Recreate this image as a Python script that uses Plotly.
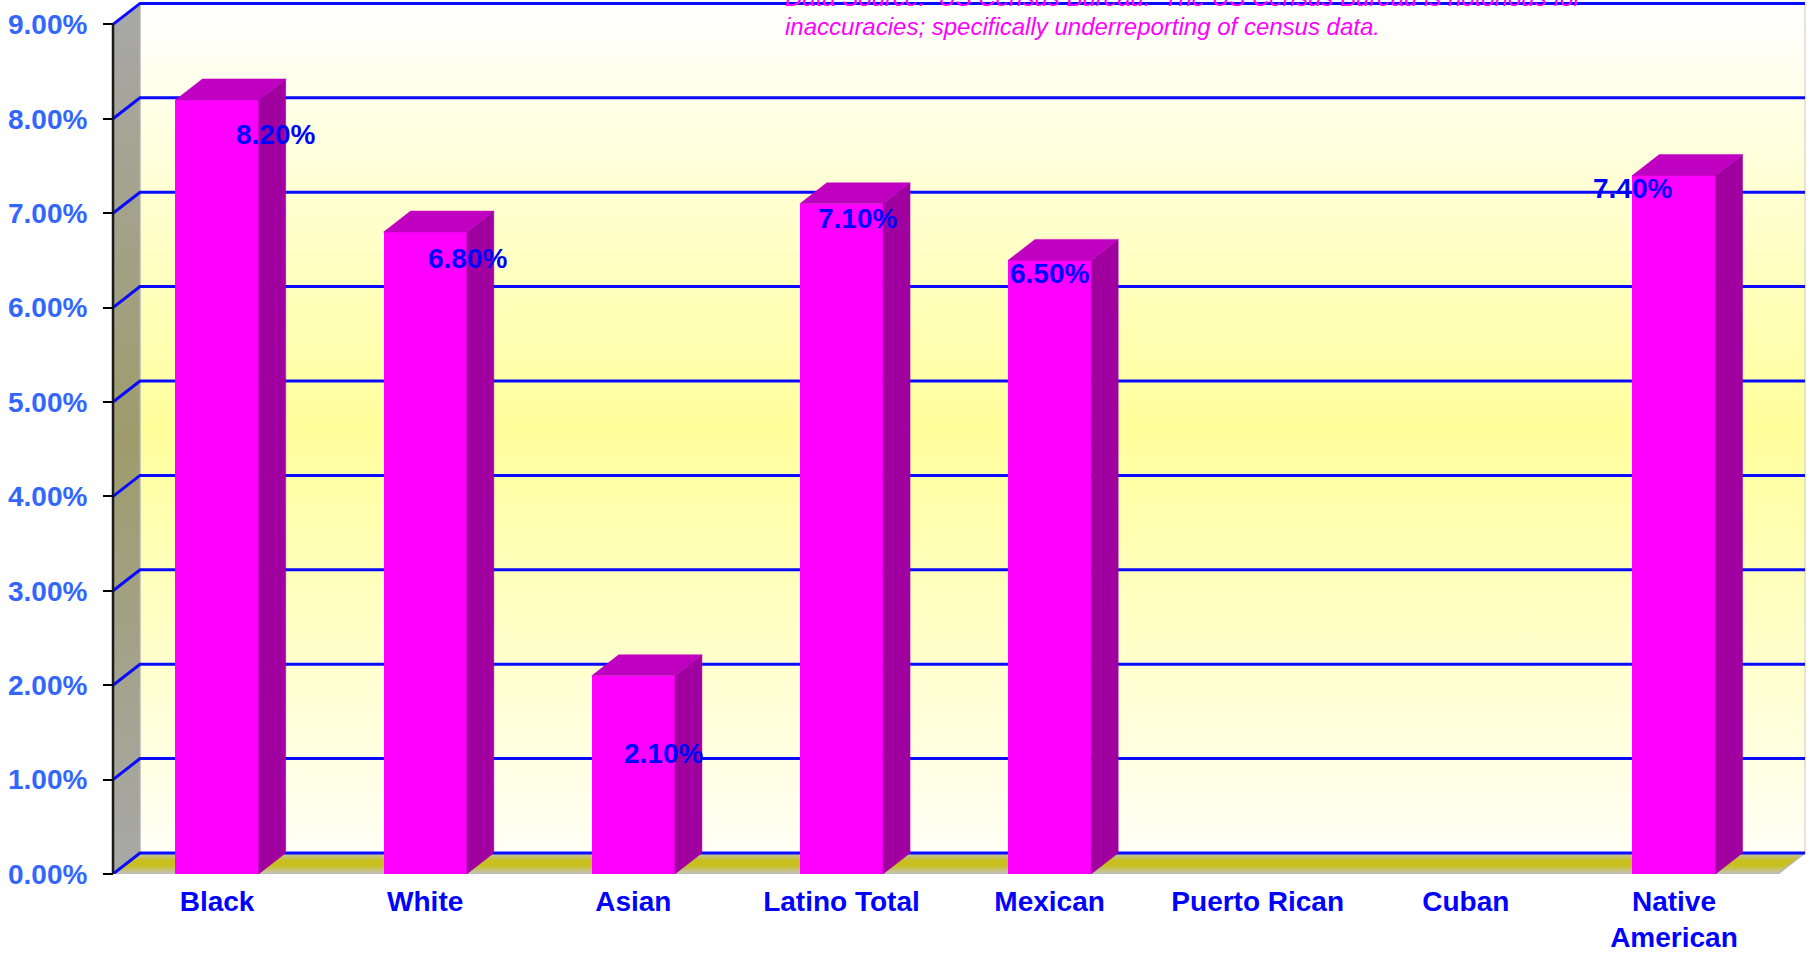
import plotly.graph_objects as go

# ---- data -------------------------------------------------------------
categories = ["Black", "White", "Asian", "Latino Total", "Mexican",
              "Puerto Rican", "Cuban", "Native American"]
category_labels = ["Black", "White", "Asian", "Latino Total", "Mexican",
                   "Puerto Rican", "Cuban", "Native<br>American"]
rates = [8.2, 6.8, 2.1, 7.1, 6.5, None, None, 7.4]          # percent
y_ticks = [0, 1, 2, 3, 4, 5, 6, 7, 8, 9]
y_tick_labels = ["0.00%", "1.00%", "2.00%", "3.00%", "4.00%",
                 "5.00%", "6.00%", "7.00%", "8.00%", "9.00%"]
note_lines = [
    "Data Source:  US Census Bureau.  The US Census Bureau is notorious for",
    "inaccuracies; specifically underreporting of census data.",
]

# value-label placement relative to each bar (category units, percent units)
label_offsets = [(0.283, -0.37), (0.201, -0.28), (0.143, -0.82), (0.075, -0.16),
                 (0.002, -0.14), None, None, (-0.197, -0.14)]

# ---- geometry ---------------------------------------------------------
W, H = 1810, 953
M_L, M_B = 108, 79
PX_CAT = 208.125          # pixels per category band
PX_PCT = 94.4             # pixels per percentage point
AXIS_SHIFT = 5            # front axis sits a few px inside the plot area
x_lo = -0.5 - AXIS_SHIFT / PX_CAT
x_hi = x_lo + (W - M_L) / PX_CAT
y_hi = (H - M_B) / PX_PCT

DX = 27 / PX_CAT          # depth offset, x
DY = 21 / PX_PCT          # depth offset, y
HALF = 0.2                # half bar width
L, R = -0.5, len(categories) - 0.5
TOP = y_ticks[-1]

FONT = "Liberation Sans, Arial, sans-serif"

fig = go.Figure()

# back wall
fig.add_trace(go.Scatter(
    x=[L + DX, R + DX, R + DX, L + DX, L + DX],
    y=[DY, DY, TOP + DY, TOP + DY, DY],
    mode="lines", fill="toself",
    fillgradient=dict(type="vertical",
                      colorscale=[[0, "#FFFFF6"], [0.5, "#FFFF9C"], [1, "#FFFFFF"]]),
    line=dict(color="#C8C8C8", width=1), hoverinfo="skip"))

# left side wall
fig.add_trace(go.Scatter(
    x=[L, L, L + DX, L + DX, L],
    y=[0, TOP, TOP + DY, DY, 0],
    mode="lines", fill="toself",
    fillgradient=dict(type="vertical",
                      colorscale=[[0, "#A8A8A8"], [0.5, "#9E9C6C"], [1, "#A8A8A8"]]),
    line=dict(color="#B0B0B0", width=1), hoverinfo="skip"))

# floor
fig.add_trace(go.Scatter(
    x=[L, R, R + DX, L + DX, L],
    y=[0, 0, DY, DY, 0],
    mode="lines", fill="toself",
    fillgradient=dict(type="vertical",
                      colorscale=[[0, "#C4C4C4"], [0.4, "#C8C020"],
                                  [0.65, "#C8C020"], [1, "#C0C0C0"]]),
    line=dict(color="#B8B8B8", width=1.5), hoverinfo="skip"))

# grid lines: diagonal across the side wall, then along the back wall
gx, gy = [], []
for k in y_ticks:
    gx += [L, L + DX, R + DX, None]
    gy += [k, k + DY, k + DY, None]
fig.add_trace(go.Scatter(x=gx, y=gy, mode="lines",
                         line=dict(color="#0A0AFF", width=3), hoverinfo="skip"))

# front value axis
fig.add_trace(go.Scatter(x=[L, L], y=[0, TOP], mode="lines",
                         line=dict(color="#1A1A1A", width=2.5), hoverinfo="skip"))

# ---- bars (overlay subplot so they sit above the walls) ---------------
sx, sy, tx, ty = [], [], [], []
for i, v in enumerate(rates):
    if v is None:
        continue
    sx += [i + HALF, i + HALF + DX, i + HALF + DX, i + HALF, i + HALF, None]
    sy += [0, DY, v + DY, v, 0, None]
    tx += [i - HALF, i + HALF, i + HALF + DX, i - HALF + DX, i - HALF, None]
    ty += [v, v, v + DY, v + DY, v, None]

fig.add_trace(go.Bar(x=list(range(len(categories))), y=rates, width=2 * HALF,
                     marker=dict(color="#FF00FF", line=dict(width=0)),
                     yaxis="y2", hoverinfo="skip"))
fig.add_trace(go.Scatter(x=sx, y=sy, mode="lines", fill="toself",
                         fillcolor="#A000A0", line=dict(color="#A000A0", width=0.5),
                         yaxis="y2", hoverinfo="skip"))
fig.add_trace(go.Scatter(x=tx, y=ty, mode="lines", fill="toself",
                         fillcolor="#C000C0", line=dict(color="#C000C0", width=0.5),
                         yaxis="y2", hoverinfo="skip"))

# ---- value labels -------------------------------------------------------
for i, (v, off) in enumerate(zip(rates, label_offsets)):
    if v is None:
        continue
    fig.add_annotation(x=i + off[0], y=v + off[1], xref="x", yref="y",
                       text=f"{v:.2f}%", showarrow=False,
                       xanchor="center", yanchor="middle",
                       font=dict(family=FONT, size=28, color="#0000FF", weight="bold"))

# ---- note at the top ----------------------------------------------------
plot_h = H - M_B
for j, line in enumerate(note_lines):
    fig.add_annotation(x=(783 - M_L) / (W - M_L), y=1 - (j * 29 - 2) / plot_h,
                       xref="paper", yref="paper", text=line, showarrow=False,
                       xanchor="left", yanchor="middle",
                       font=dict(family=FONT, size=24, color="#FF00FF", style="italic"))

fig.update_layout(
    width=W, height=H,
    margin=dict(l=M_L, r=0, t=0, b=M_B, pad=0, autoexpand=False),
    paper_bgcolor="#FFFFFF", plot_bgcolor="#FFFFFF",
    showlegend=False,
    bargap=0,
    xaxis=dict(range=[x_lo, x_hi], tickmode="array",
               tickvals=list(range(len(categories))), ticktext=category_labels,
               ticks="", showgrid=False, zeroline=False, showline=False,
               automargin=False,
               tickfont=dict(family=FONT, size=28, color="#0000FF", weight="bold"),
               ticklabelstandoff=8),
    yaxis=dict(range=[0, y_hi], tickmode="array", tickvals=y_ticks,
               ticktext=y_tick_labels, ticks="outside", ticklen=10,
               tickcolor="#000000", tickwidth=1.5,
               showgrid=False, zeroline=False, showline=False,
               automargin=False,
               anchor="free", position=AXIS_SHIFT / (W - M_L),
               tickfont=dict(family=FONT, size=28, color="#3366FF", weight="bold"),
               ticklabelstandoff=10),
    yaxis2=dict(range=[0, y_hi], overlaying="y", visible=False),
)

fig.write_html("out.html")
